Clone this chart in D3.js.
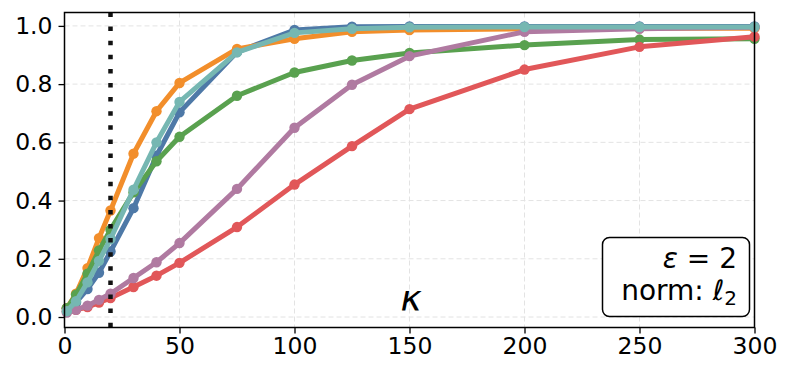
<!DOCTYPE html>
<html><head><meta charset="utf-8">
<script src="https://cdn.jsdelivr.net/npm/d3@7"></script>
<style>body{margin:0;background:#fff;} svg{display:block;font-family:"DejaVu Sans",sans-serif;}</style>
</head><body>
<svg id="chart" width="792" height="376"></svg>
<script>
const kappa = [1, 5, 10, 15, 20, 30, 40, 50, 75, 100, 125, 150, 200, 250, 300];
const blueVals   = [0.03, 0.05, 0.096, 0.152, 0.225, 0.374, 0.554, 0.703, 0.91, 0.986, 0.997, 0.998, 0.998, 0.998, 0.998];
const orangeVals = [0.03, 0.08, 0.168, 0.271, 0.366, 0.561, 0.707, 0.804, 0.921, 0.956, 0.98, 0.986, 0.99, 0.992, 0.992];
const greenVals  = [0.03, 0.077, 0.149, 0.229, 0.30, 0.428, 0.535, 0.619, 0.76, 0.84, 0.881, 0.907, 0.934, 0.953, 0.956];
const redVals    = [0.02, 0.025, 0.034, 0.05, 0.065, 0.103, 0.142, 0.186, 0.309, 0.455, 0.587, 0.714, 0.85, 0.928, 0.963];
const purpleVals = [0.015, 0.025, 0.039, 0.059, 0.08, 0.134, 0.188, 0.254, 0.44, 0.65, 0.798, 0.896, 0.98, 0.99, 0.995];
const tealVals   = [0.02, 0.054, 0.119, 0.193, 0.268, 0.437, 0.60, 0.739, 0.909, 0.976, 0.99, 0.995, 0.996, 0.996, 0.996];
const seriesNames = ["blue", "orange", "green", "red", "purple", "teal"];
const seriesColors = ["#4e79a7", "#f28e2b", "#59a14f", "#e15759", "#b07aa1", "#76b7b2"];
const seriesData = [blueVals, orangeVals, greenVals, redVals, purpleVals, tealVals];
const xTicks = [0, 50, 100, 150, 200, 250, 300];
const yTicks = [0.0, 0.2, 0.4, 0.6, 0.8, 1.0];
const vlineX = 20;

const svg = d3.select("#chart");
const L = 64.5, R = 754.5, T = 12.5, B = 327.5;
const x = d3.scaleLinear().domain([0, 300]).range([L, R]);
const y = d3.scaleLinear().domain([-0.036, 1.046]).range([B, T]);

// grid
const grid = svg.append("g");
grid.selectAll(".gx").data(xTicks.slice(1, -1)).join("line")
  .attr("x1", d => x(d)).attr("x2", d => x(d)).attr("y1", T).attr("y2", B)
  .attr("stroke", "#e3e3e3").attr("stroke-width", 1).attr("stroke-dasharray", "5,3");
grid.selectAll(".gy").data(yTicks).join("line")
  .attr("x1", L).attr("x2", R).attr("y1", d => y(d)).attr("y2", d => y(d))
  .attr("stroke", "#e3e3e3").attr("stroke-width", 1).attr("stroke-dasharray", "5,3");

// series
const line = d3.line().x((d, i) => x(kappa[i])).y(d => y(d));
seriesData.forEach((vals, si) => {
  const g = svg.append("g");
  g.append("path").datum(vals).attr("d", line)
    .attr("fill", "none").attr("stroke", seriesColors[si]).attr("stroke-width", 5)
    .attr("stroke-linejoin", "round");
  g.selectAll("circle").data(vals).join("circle")
    .attr("cx", (d, i) => x(kappa[i])).attr("cy", d => y(d)).attr("r", 5.2)
    .attr("fill", seriesColors[si]);
});

// vertical dotted line
svg.append("line").attr("x1", x(vlineX)).attr("x2", x(vlineX)).attr("y1", T).attr("y2", B)
  .attr("stroke", "#111").attr("stroke-width", 4.5).attr("stroke-dasharray", "4.5,9.6");

// frame
svg.append("rect").attr("x", L).attr("y", T).attr("width", R - L).attr("height", B - T)
  .attr("fill", "none").attr("stroke", "#000").attr("stroke-width", 1.5);

// axes
const xAxis = svg.append("g").attr("transform", `translate(0,${B})`)
  .call(d3.axisBottom(x).tickValues(xTicks).tickSize(6).tickPadding(4).tickFormat(d3.format("d")));
const yAxis = svg.append("g").attr("transform", `translate(${L},0)`)
  .call(d3.axisLeft(y).tickValues(yTicks).tickSize(6).tickPadding(6).tickFormat(d3.format(".1f")));
[xAxis, yAxis].forEach(a => {
  a.select(".domain").remove();
  a.selectAll("line").attr("stroke", "#000").attr("stroke-width", 1.3);
  a.selectAll("text").attr("font-size", 23.5).attr("fill", "#000").attr("font-family", "DejaVu Sans");
});

// kappa label
svg.append("text").attr("x", 411).attr("y", 310.5).attr("text-anchor", "middle")
  .attr("font-size", 36).attr("font-style", "italic").text("κ");

// annotation box
svg.append("rect").attr("x", 602.5).attr("y", 237.5).attr("width", 147).attr("height", 79)
  .attr("rx", 7).attr("fill", "#fff").attr("stroke", "#000").attr("stroke-width", 1.5);
const t1 = svg.append("text").attr("x", 737).attr("y", 268).attr("text-anchor", "end").attr("font-size", 28);
t1.append("tspan").attr("font-style", "italic").text("ε");
t1.append("tspan").text(" = 2");
const t2 = svg.append("text").attr("x", 737).attr("y", 300).attr("text-anchor", "end").attr("font-size", 28);
t2.append("tspan").text("norm: ");
t2.append("tspan").attr("font-style", "italic").text("ℓ");
t2.append("tspan").attr("font-size", 20).attr("dy", 5).text("2");
</script>
</body></html>
